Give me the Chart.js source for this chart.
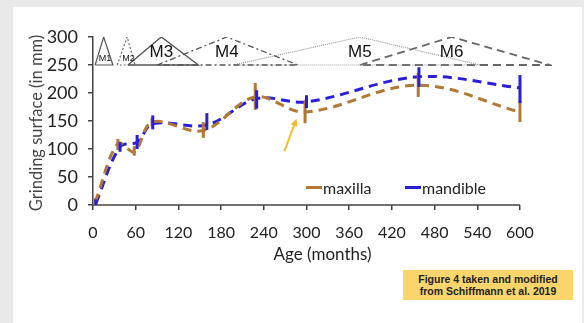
<!DOCTYPE html>
<html>
<head>
<meta charset="utf-8">
<script src="https://cdn.jsdelivr.net/npm/chart.js@4.4.1/dist/chart.umd.min.js"></script>
<style>
  html, body { margin: 0; padding: 0; }
  body { width: 584px; height: 323px; background: #e9e9e9; position: relative; overflow: hidden; font-family: Lato, sans-serif; }
  #panel { position: absolute; left: 13px; top: 7px; width: 569px; height: 316px; background: #fff; }
  #wrap { position: absolute; left: 0; top: 0; width: 584px; height: 323px; }
  .leg { position: absolute; top: 178px; font-size: 16px; color: #222; }
  .leg span { display: inline-block; width: 16px; height: 3px; vertical-align: middle; margin-right: 1px; position: relative; top: -2px; }
  #note { position: absolute; left: 403px; top: 270px; width: 170px; height: 30px; background: #fad56c;
          font: bold 10.5px "Liberation Sans", Arial, sans-serif; color: #222; text-align: center; line-height: 12px; padding-top: 3px; box-sizing: border-box; }
</style>
</head>
<body>
<div id="panel"></div>
<div id="wrap"><canvas id="chart" width="584" height="323"></canvas></div>
<div class="leg" style="left:306px"><span style="background:#b07a36"></span>maxilla</div>
<div class="leg" style="left:405px"><span style="background:#2a1fd8"></span>mandible</div>
<div id="note">Figure 4 taken and modified<br>from Schiffmann et al. 2019</div>
<script>
// ages in months, grinding surface in mm
const maxAge = [3, 35, 58, 83, 155, 228, 298, 457, 600];
const maxVal = [5, 110, 95, 148, 133, 193, 166, 214, 166];
const maxLow = [0, 98, 88, 140, 120, 170, 146, 193, 148];
const maxHigh = [12, 118, 105, 156, 148, 218, 187, 236, 187];

const manAge = [4, 38, 62, 84, 160, 230, 300, 458, 600];
const manVal = [3, 104, 112, 145, 143, 190, 184, 229, 209];
const manLow = [0, 95, 100, 135, 134, 172, 173, 211, 182];
const manHigh = [10, 112, 125, 160, 164, 205, 196, 246, 232];

// molar eruption windows: start, peak, end (months)
const molars = ['M1', 'M2', 'M3', 'M4', 'M5', 'M6'];
const molarStart = [3, 34, 49, 90, 197, 375];
const molarPeak = [15, 48, 96, 188, 375, 504];
const molarEnd = [28, 59, 148, 288, 544, 642];
const molarBase = 250;
const molarTop = 300;

const xTicks = [0, 60, 120, 180, 240, 300, 360, 420, 480, 540, 600];

const brown = '#b07a36';
const blue = '#2a1fd8';

const molarStyle = [
  { color: '#555', dash: [], width: 1.2, size: 9 },
  { color: '#666', dash: [2, 2], width: 1.2, size: 9 },
  { color: '#555', dash: [], width: 1.4, size: 17 },
  { color: '#555', dash: [6, 3, 2, 3], width: 1.3, size: 17 },
  { color: '#999', dash: [1, 1], width: 1.2, size: 17 },
  { color: '#666', dash: [8, 5], width: 1.8, size: 17 }
];

const pts = (xs, ys) => xs.map((x, i) => ({ x: x, y: ys[i] }));

const datasets = [
  { label: 'maxilla', data: pts(maxAge, maxVal), borderColor: brown, borderWidth: 3, borderDash: [9, 6],
    pointRadius: 0, tension: 0.35, low: maxLow, high: maxHigh },
  { label: 'mandible', data: pts(manAge, manVal), borderColor: blue, borderWidth: 3, borderDash: [9, 6],
    pointRadius: 0, tension: 0.35, low: manLow, high: manHigh }
];
molars.forEach((m, i) => {
  datasets.push({
    label: m,
    data: [{ x: molarStart[i], y: molarBase }, { x: molarPeak[i], y: molarTop },
           { x: molarEnd[i], y: molarBase }, { x: molarStart[i], y: molarBase }],
    borderColor: molarStyle[i].color, borderWidth: molarStyle[i].width, borderDash: molarStyle[i].dash,
    pointRadius: 0, tension: 0
  });
});

// arrow annotation (months, mm)
const arrowFrom = { x: 269, y: 96 };
const arrowTo = { x: 286, y: 154 };

const extras = {
  id: 'extras',
  afterDatasetsDraw(chart) {
    const c = chart.ctx, xs = chart.scales.x, ys = chart.scales.y;
    c.save();
    // x axis line up to 600
    c.strokeStyle = '#444'; c.lineWidth = 1.5;
    c.beginPath(); c.moveTo(xs.getPixelForValue(0) - 1, ys.getPixelForValue(0));
    c.lineTo(xs.getPixelForValue(600), ys.getPixelForValue(0)); c.stroke();
    // error bars
    chart.data.datasets.forEach(ds => {
      if (!ds.low) return;
      c.strokeStyle = ds.borderColor; c.lineWidth = 3; c.setLineDash([]);
      ds.data.forEach((p, i) => {
        const px = xs.getPixelForValue(p.x);
        c.beginPath();
        c.moveTo(px, ys.getPixelForValue(ds.low[i]));
        c.lineTo(px, ys.getPixelForValue(ds.high[i]));
        c.stroke();
      });
    });
    // molar labels
    c.fillStyle = '#111'; c.textAlign = 'center'; c.textBaseline = 'middle';
    molars.forEach((m, i) => {
      c.font = molarStyle[i].size + 'px "Liberation Sans", Arial, sans-serif';
      const yOff = molarStyle[i].size < 12 ? 262 : 272;
      c.fillText(m, xs.getPixelForValue(molarPeak[i] + (i < 2 ? 2 : 0)), ys.getPixelForValue(yOff));
    });
    // y axis title
    c.save();
    c.translate(37, (ys.top + ys.bottom) / 2 + 2);
    c.rotate(-Math.PI / 2);
    c.fillStyle = '#444';
    c.font = '16.5px Lato, sans-serif';
    c.fillText('Grinding surface (in mm)', 0, 0);
    c.restore();
    // arrow
    const ax = xs.getPixelForValue(arrowFrom.x), ay = ys.getPixelForValue(arrowFrom.y);
    const bx = xs.getPixelForValue(arrowTo.x), by = ys.getPixelForValue(arrowTo.y);
    const ang = Math.atan2(by - ay, bx - ax);
    c.strokeStyle = '#f2bb2a'; c.fillStyle = '#f2bb2a'; c.lineWidth = 2;
    c.beginPath(); c.moveTo(ax, ay); c.lineTo(bx - 5 * Math.cos(ang), by - 5 * Math.sin(ang)); c.stroke();
    c.beginPath(); c.moveTo(bx, by);
    c.lineTo(bx - 8 * Math.cos(ang - 0.45), by - 8 * Math.sin(ang - 0.45));
    c.lineTo(bx - 8 * Math.cos(ang + 0.45), by - 8 * Math.sin(ang + 0.45));
    c.closePath(); c.fill();
    c.restore();
  }
};

new Chart(document.getElementById('chart'), {
  type: 'line',
  data: { datasets: datasets },
  plugins: [extras],
  options: {
    responsive: false,
    animation: false,
    layout: { padding: { left: 29, right: 32, top: 37, bottom: 58 } },
    plugins: { legend: { display: false }, tooltip: { enabled: false } },
    scales: {
      x: {
        type: 'linear', min: 0, max: 645,
        afterBuildTicks: s => { s.ticks = xTicks.map(v => ({ value: v })); },
        afterFit: s => { s.height = 60; },
        border: { display: false },
        grid: { drawOnChartArea: false, drawTicks: true, tickLength: 5, color: '#444', lineWidth: 1.5 },
        ticks: { color: '#222', font: { family: 'Lato', size: 16 }, padding: 13, maxRotation: 0 },
        title: { display: true, text: 'Age (months)', color: '#222', font: { family: 'Lato', size: 17 }, padding: { top: 0, bottom: 0 } }
      },
      y: {
        min: 0, max: 300,
        afterFit: s => { s.width = 64; },
        border: { display: true, color: '#444', width: 1.5 },
        grid: { drawOnChartArea: false, drawTicks: true, tickLength: 5, color: '#444', lineWidth: 1.5 },
        ticks: { stepSize: 50, color: '#222', font: { family: 'Lato', size: 18 }, padding: 10 }
      }
    }
  }
});
</script>
</body>
</html>
